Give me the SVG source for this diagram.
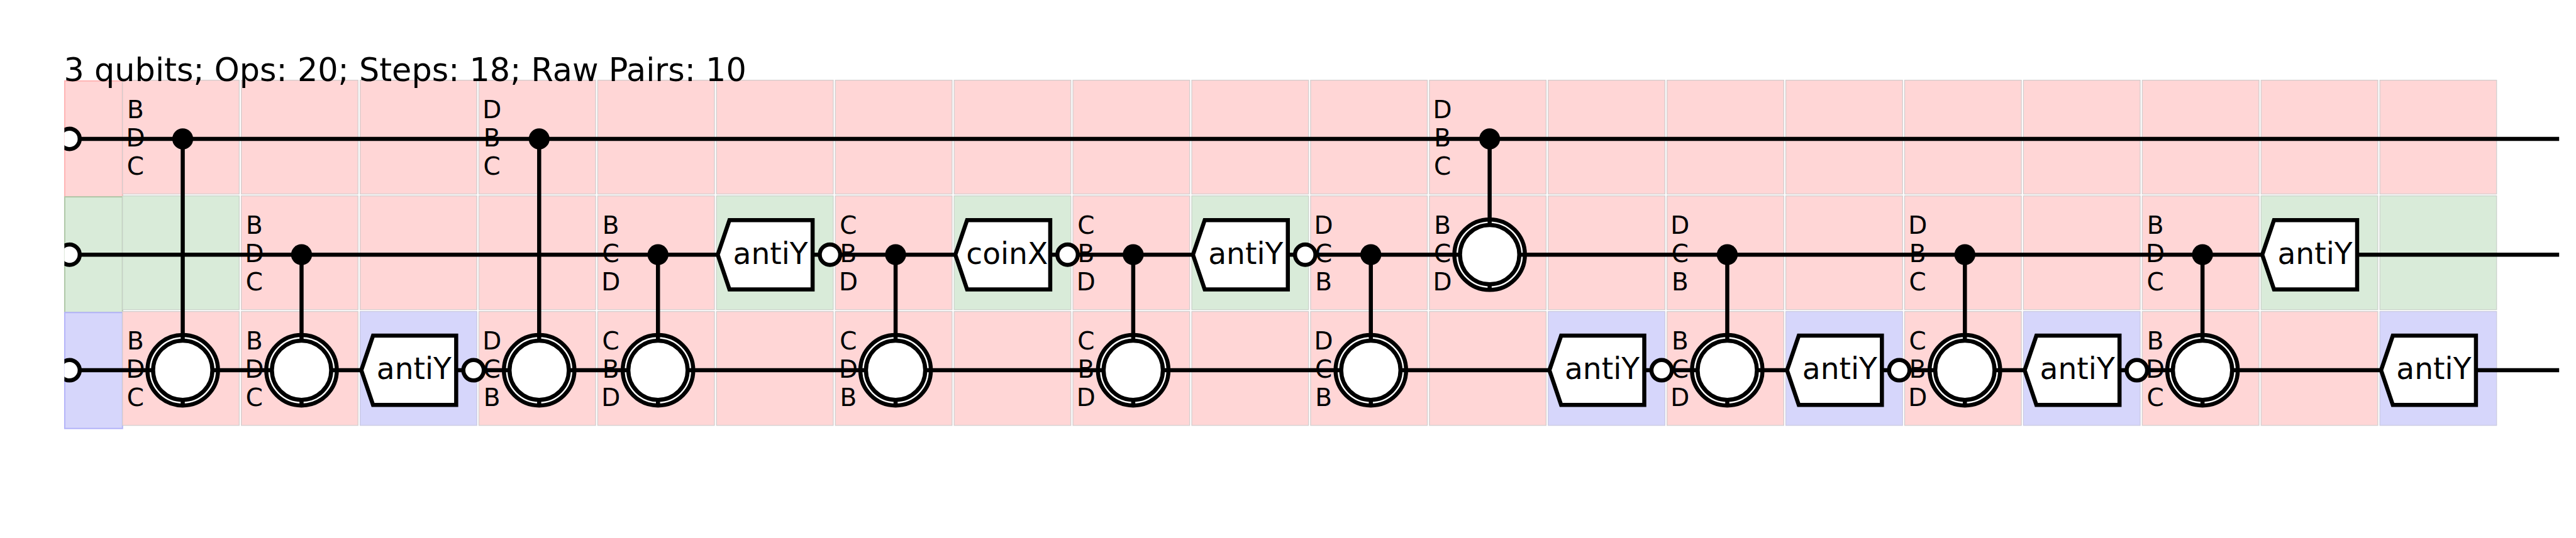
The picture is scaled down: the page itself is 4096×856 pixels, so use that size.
<svg xmlns="http://www.w3.org/2000/svg" xmlns:xlink="http://www.w3.org/1999/xlink" width="4096" height="856" viewBox="0 0 4096 856">
<style>
text{font-family:"DejaVu Sans","Liberation Sans",sans-serif;fill:#000}
.title{font-size:62.6px}
.l{font-size:48px;text-anchor:middle}
.g{font-size:58px;text-anchor:middle}
.p{fill:#ffd6d6;stroke:#d0cccc;stroke-width:1.5}
.v{fill:#d9ebd9;stroke:#c8d0c8;stroke-width:1.5}
.b{fill:#d6d6fb;stroke:#c8c8e0;stroke-width:1.5}
.w{stroke:#000;stroke-width:8;fill:none}
.o{stroke:#000;stroke-width:8;fill:#fff}
.k{fill:#000}
</style>
<defs>
<clipPath id="leftclip"><rect x="126" y="0" width="5000" height="1053"/></clipPath>
<g id="target"><circle r="69" class="o"/><path d="M0,-66V66M-66,0H66" class="w"/><circle r="58" class="o"/></g>
<circle id="dot" r="20.5" class="k"/>
<path id="hex" d="M2.3,0L25.3,-67.7H188V68H25.3Z" class="o"/>
<circle id="inv" r="20" class="o"/>
<rect id="cell" width="228.4" height="223"/>
</defs>
<g transform="scale(0.81254)">
<g id="background">
<rect x="126.7" y="158.5" width="113" height="227" fill="#ffd6d6" stroke="#ffb4b4" stroke-width="2.5"/>
<rect x="126.7" y="385.5" width="113" height="226.5" fill="#d9ebd9" stroke="#b0c8a8" stroke-width="2.5"/>
<rect x="126.7" y="612" width="113" height="227" fill="#d6d6fb" stroke="#b4b4f8" stroke-width="2.5"/>
<use href="#cell" class="p" x="239.7" y="157"/><use href="#cell" class="v" x="239.7" y="383.5"/><use href="#cell" class="p" x="239.7" y="610"/>
<use href="#cell" class="p" x="472.2" y="157"/><use href="#cell" class="p" x="472.2" y="383.5"/><use href="#cell" class="p" x="472.2" y="610"/>
<use href="#cell" class="p" x="704.7" y="157"/><use href="#cell" class="p" x="704.7" y="383.5"/><use href="#cell" class="b" x="704.7" y="610"/>
<use href="#cell" class="p" x="937.2" y="157"/><use href="#cell" class="p" x="937.2" y="383.5"/><use href="#cell" class="p" x="937.2" y="610"/>
<use href="#cell" class="p" x="1169.7" y="157"/><use href="#cell" class="p" x="1169.7" y="383.5"/><use href="#cell" class="p" x="1169.7" y="610"/>
<use href="#cell" class="p" x="1402.2" y="157"/><use href="#cell" class="v" x="1402.2" y="383.5"/><use href="#cell" class="p" x="1402.2" y="610"/>
<use href="#cell" class="p" x="1634.7" y="157"/><use href="#cell" class="p" x="1634.7" y="383.5"/><use href="#cell" class="p" x="1634.7" y="610"/>
<use href="#cell" class="p" x="1867.2" y="157"/><use href="#cell" class="v" x="1867.2" y="383.5"/><use href="#cell" class="p" x="1867.2" y="610"/>
<use href="#cell" class="p" x="2099.7" y="157"/><use href="#cell" class="p" x="2099.7" y="383.5"/><use href="#cell" class="p" x="2099.7" y="610"/>
<use href="#cell" class="p" x="2332.2" y="157"/><use href="#cell" class="v" x="2332.2" y="383.5"/><use href="#cell" class="p" x="2332.2" y="610"/>
<use href="#cell" class="p" x="2564.7" y="157"/><use href="#cell" class="p" x="2564.7" y="383.5"/><use href="#cell" class="p" x="2564.7" y="610"/>
<use href="#cell" class="p" x="2797.2" y="157"/><use href="#cell" class="p" x="2797.2" y="383.5"/><use href="#cell" class="p" x="2797.2" y="610"/>
<use href="#cell" class="p" x="3029.7" y="157"/><use href="#cell" class="p" x="3029.7" y="383.5"/><use href="#cell" class="b" x="3029.7" y="610"/>
<use href="#cell" class="p" x="3262.2" y="157"/><use href="#cell" class="p" x="3262.2" y="383.5"/><use href="#cell" class="p" x="3262.2" y="610"/>
<use href="#cell" class="p" x="3494.7" y="157"/><use href="#cell" class="p" x="3494.7" y="383.5"/><use href="#cell" class="b" x="3494.7" y="610"/>
<use href="#cell" class="p" x="3727.2" y="157"/><use href="#cell" class="p" x="3727.2" y="383.5"/><use href="#cell" class="p" x="3727.2" y="610"/>
<use href="#cell" class="p" x="3959.7" y="157"/><use href="#cell" class="p" x="3959.7" y="383.5"/><use href="#cell" class="b" x="3959.7" y="610"/>
<use href="#cell" class="p" x="4192.2" y="157"/><use href="#cell" class="p" x="4192.2" y="383.5"/><use href="#cell" class="p" x="4192.2" y="610"/>
<use href="#cell" class="p" x="4424.7" y="157"/><use href="#cell" class="v" x="4424.7" y="383.5"/><use href="#cell" class="p" x="4424.7" y="610"/>
<use href="#cell" class="p" x="4657.2" y="157"/><use href="#cell" class="v" x="4657.2" y="383.5"/><use href="#cell" class="b" x="4657.2" y="610"/>
</g>
<text id="title" class="title" x="125" y="159">3 qubits; Ops: 20; Steps: 18; Raw Pairs: 10</text>
<g id="connectors" class="w">
<path d="M136,272H5008M136,498.7H5008M136,725H5008"/>
<path d="M357.6,272V725M590.1,498.7V725M1055.1,272V725M1287.6,498.7V725M1752.6,498.7V725M2217.6,498.7V725M2682.6,498.7V725M2915.1,272V498.7M3380.1,498.7V725M3845.1,498.7V725M4310.1,498.7V725"/>
</g>
<g id="inputs" clip-path="url(#leftclip)">
<use id="in1" href="#inv" x="136" y="272"/><use id="in2" href="#inv" x="136" y="498.7"/><use id="in3" href="#inv" x="136" y="725"/>
</g>
<g id="step0" transform="translate(239.7,0)"><text class="l" x="25.5" y="231">B</text><text class="l" x="25.5" y="287">D</text><text class="l" x="25.5" y="342">C</text><text class="l" x="25.5" y="684">B</text><text class="l" x="25.5" y="740">D</text><text class="l" x="25.5" y="795">C</text><use href="#dot" x="117.9" y="272"/><use href="#target" x="117.9" y="725"/></g>
<g id="step1" transform="translate(472.2,0)"><text class="l" x="25.5" y="457.7">B</text><text class="l" x="25.5" y="513.7">D</text><text class="l" x="25.5" y="568.7">C</text><text class="l" x="25.5" y="684">B</text><text class="l" x="25.5" y="740">D</text><text class="l" x="25.5" y="795">C</text><use href="#dot" x="117.9" y="498.7"/><use href="#target" x="117.9" y="725"/></g>
<g id="step2" transform="translate(704.7,725)"><use href="#hex"/><text class="g" x="105.5" y="17.7">antiY</text><use href="#inv" x="222"/></g>
<g id="step3" transform="translate(937.2,0)"><text class="l" x="25.5" y="231">D</text><text class="l" x="25.5" y="287">B</text><text class="l" x="25.5" y="342">C</text><text class="l" x="25.5" y="684">D</text><text class="l" x="25.5" y="740">C</text><text class="l" x="25.5" y="795">B</text><use href="#dot" x="117.9" y="272"/><use href="#target" x="117.9" y="725"/></g>
<g id="step4" transform="translate(1169.7,0)"><text class="l" x="25.5" y="457.7">B</text><text class="l" x="25.5" y="513.7">C</text><text class="l" x="25.5" y="568.7">D</text><text class="l" x="25.5" y="684">C</text><text class="l" x="25.5" y="740">B</text><text class="l" x="25.5" y="795">D</text><use href="#dot" x="117.9" y="498.7"/><use href="#target" x="117.9" y="725"/></g>
<g id="step5" transform="translate(1402.2,498.7)"><use href="#hex"/><text class="g" x="105.5" y="17.7">antiY</text><use href="#inv" x="222"/></g>
<g id="step6" transform="translate(1634.7,0)"><text class="l" x="25.5" y="457.7">C</text><text class="l" x="25.5" y="513.7">B</text><text class="l" x="25.5" y="568.7">D</text><text class="l" x="25.5" y="684">C</text><text class="l" x="25.5" y="740">D</text><text class="l" x="25.5" y="795">B</text><use href="#dot" x="117.9" y="498.7"/><use href="#target" x="117.9" y="725"/></g>
<g id="step7" transform="translate(1867.2,498.7)"><use href="#hex"/><text class="g" x="103.5" y="17.7">coinX</text><use href="#inv" x="222"/></g>
<g id="step8" transform="translate(2099.7,0)"><text class="l" x="25.5" y="457.7">C</text><text class="l" x="25.5" y="513.7">B</text><text class="l" x="25.5" y="568.7">D</text><text class="l" x="25.5" y="684">C</text><text class="l" x="25.5" y="740">B</text><text class="l" x="25.5" y="795">D</text><use href="#dot" x="117.9" y="498.7"/><use href="#target" x="117.9" y="725"/></g>
<g id="step9" transform="translate(2332.2,498.7)"><use href="#hex"/><text class="g" x="105.5" y="17.7">antiY</text><use href="#inv" x="222"/></g>
<g id="step10" transform="translate(2564.7,0)"><text class="l" x="25.5" y="457.7">D</text><text class="l" x="25.5" y="513.7">C</text><text class="l" x="25.5" y="568.7">B</text><text class="l" x="25.5" y="684">D</text><text class="l" x="25.5" y="740">C</text><text class="l" x="25.5" y="795">B</text><use href="#dot" x="117.9" y="498.7"/><use href="#target" x="117.9" y="725"/></g>
<g id="step11" transform="translate(2797.2,0)"><text class="l" x="25.5" y="231">D</text><text class="l" x="25.5" y="287">B</text><text class="l" x="25.5" y="342">C</text><text class="l" x="25.5" y="457.7">B</text><text class="l" x="25.5" y="513.7">C</text><text class="l" x="25.5" y="568.7">D</text><use href="#dot" x="117.9" y="272"/><use href="#target" x="117.9" y="498.7"/></g>
<g id="step12" transform="translate(3029.7,725)"><use href="#hex"/><text class="g" x="105.5" y="17.7">antiY</text><use href="#inv" x="222"/></g>
<g id="step13" transform="translate(3262.2,0)"><text class="l" x="25.5" y="457.7">D</text><text class="l" x="25.5" y="513.7">C</text><text class="l" x="25.5" y="568.7">B</text><text class="l" x="25.5" y="684">B</text><text class="l" x="25.5" y="740">C</text><text class="l" x="25.5" y="795">D</text><use href="#dot" x="117.9" y="498.7"/><use href="#target" x="117.9" y="725"/></g>
<g id="step14" transform="translate(3494.7,725)"><use href="#hex"/><text class="g" x="105.5" y="17.7">antiY</text><use href="#inv" x="222"/></g>
<g id="step15" transform="translate(3727.2,0)"><text class="l" x="25.5" y="457.7">D</text><text class="l" x="25.5" y="513.7">B</text><text class="l" x="25.5" y="568.7">C</text><text class="l" x="25.5" y="684">C</text><text class="l" x="25.5" y="740">B</text><text class="l" x="25.5" y="795">D</text><use href="#dot" x="117.9" y="498.7"/><use href="#target" x="117.9" y="725"/></g>
<g id="step16" transform="translate(3959.7,725)"><use href="#hex"/><text class="g" x="105.5" y="17.7">antiY</text><use href="#inv" x="222"/></g>
<g id="step17" transform="translate(4192.2,0)"><text class="l" x="25.5" y="457.7">B</text><text class="l" x="25.5" y="513.7">D</text><text class="l" x="25.5" y="568.7">C</text><text class="l" x="25.5" y="684">B</text><text class="l" x="25.5" y="740">D</text><text class="l" x="25.5" y="795">C</text><use href="#dot" x="117.9" y="498.7"/><use href="#target" x="117.9" y="725"/></g>
<g id="step18" transform="translate(4424.7,498.7)"><use href="#hex"/><text class="g" x="105.5" y="17.7">antiY</text></g>
<g id="step19" transform="translate(4657.2,725)"><use href="#hex"/><text class="g" x="105.5" y="17.7">antiY</text></g>
</g>
</svg>
